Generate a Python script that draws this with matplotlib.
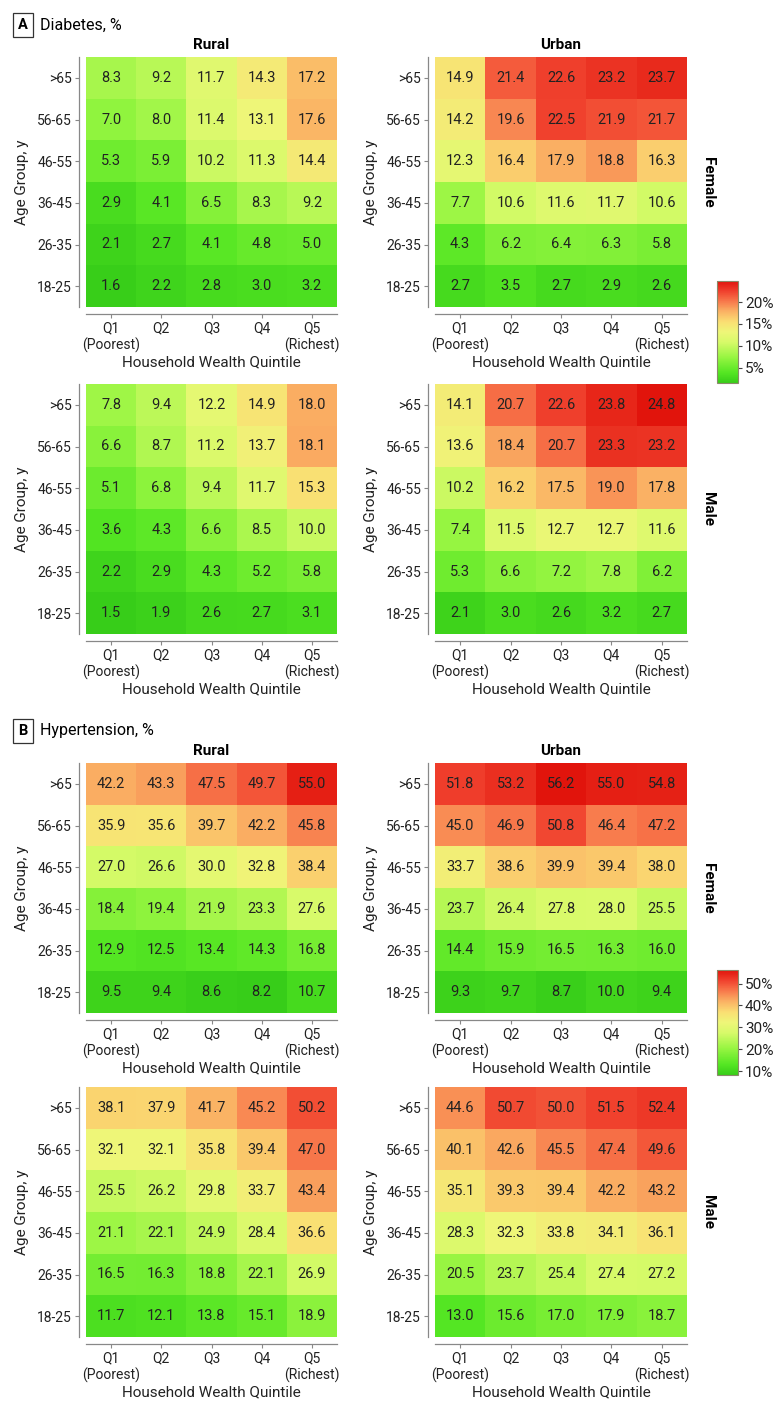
import numpy as np
import matplotlib
matplotlib.use("Agg")
import matplotlib.pyplot as plt
from matplotlib.colors import LinearSegmentedColormap, Normalize
from matplotlib.patches import Rectangle
import matplotlib.ticker as mticker

plt.rcParams['font.family'] = ['Roboto', 'DejaVu Sans']

age_groups = ['>65', '56-65', '46-55', '36-45', '26-35', '18-25']
quintiles = ['Q1\n(Poorest)', 'Q2', 'Q3', 'Q4', 'Q5\n(Richest)']

# rows top (>65) to bottom (18-25), columns Q1..Q5
diab_rural_female = [[8.3, 9.2, 11.7, 14.3, 17.2],
                     [7.0, 8.0, 11.4, 13.1, 17.6],
                     [5.3, 5.9, 10.2, 11.3, 14.4],
                     [2.9, 4.1, 6.5, 8.3, 9.2],
                     [2.1, 2.7, 4.1, 4.8, 5.0],
                     [1.6, 2.2, 2.8, 3.0, 3.2]]
diab_urban_female = [[14.9, 21.4, 22.6, 23.2, 23.7],
                     [14.2, 19.6, 22.5, 21.9, 21.7],
                     [12.3, 16.4, 17.9, 18.8, 16.3],
                     [7.7, 10.6, 11.6, 11.7, 10.6],
                     [4.3, 6.2, 6.4, 6.3, 5.8],
                     [2.7, 3.5, 2.7, 2.9, 2.6]]
diab_rural_male = [[7.8, 9.4, 12.2, 14.9, 18.0],
                   [6.6, 8.7, 11.2, 13.7, 18.1],
                   [5.1, 6.8, 9.4, 11.7, 15.3],
                   [3.6, 4.3, 6.6, 8.5, 10.0],
                   [2.2, 2.9, 4.3, 5.2, 5.8],
                   [1.5, 1.9, 2.6, 2.7, 3.1]]
diab_urban_male = [[14.1, 20.7, 22.6, 23.8, 24.8],
                   [13.6, 18.4, 20.7, 23.3, 23.2],
                   [10.2, 16.2, 17.5, 19.0, 17.8],
                   [7.4, 11.5, 12.7, 12.7, 11.6],
                   [5.3, 6.6, 7.2, 7.8, 6.2],
                   [2.1, 3.0, 2.6, 3.2, 2.7]]

hyp_rural_female = [[42.2, 43.3, 47.5, 49.7, 55.0],
                    [35.9, 35.6, 39.7, 42.2, 45.8],
                    [27.0, 26.6, 30.0, 32.8, 38.4],
                    [18.4, 19.4, 21.9, 23.3, 27.6],
                    [12.9, 12.5, 13.4, 14.3, 16.8],
                    [9.5, 9.4, 8.6, 8.2, 10.7]]
hyp_urban_female = [[51.8, 53.2, 56.2, 55.0, 54.8],
                    [45.0, 46.9, 50.8, 46.4, 47.2],
                    [33.7, 38.6, 39.9, 39.4, 38.0],
                    [23.7, 26.4, 27.8, 28.0, 25.5],
                    [14.4, 15.9, 16.5, 16.3, 16.0],
                    [9.3, 9.7, 8.7, 10.0, 9.4]]
hyp_rural_male = [[38.1, 37.9, 41.7, 45.2, 50.2],
                  [32.1, 32.1, 35.8, 39.4, 47.0],
                  [25.5, 26.2, 29.8, 33.7, 43.4],
                  [21.1, 22.1, 24.9, 28.4, 36.6],
                  [16.5, 16.3, 18.8, 22.1, 26.9],
                  [11.7, 12.1, 13.8, 15.1, 18.9]]
hyp_urban_male = [[44.6, 50.7, 50.0, 51.5, 52.4],
                  [40.1, 42.6, 45.5, 47.4, 49.6],
                  [35.1, 39.3, 39.4, 42.2, 43.2],
                  [28.3, 32.3, 33.8, 34.1, 36.1],
                  [20.5, 23.7, 25.4, 27.4, 27.2],
                  [13.0, 15.6, 17.0, 17.9, 18.7]]

nodes = [(0.0, (55, 205, 25)), (0.1, (85, 230, 35)), (0.25, (150, 245, 65)),
         (0.4, (215, 250, 105)), (0.5, (238, 246, 120)), (0.6, (250, 222, 115)),
         (0.7, (250, 178, 100)), (0.8, (248, 122, 76)), (0.9, (240, 66, 46)),
         (1.0, (225, 20, 12))]
cmap = LinearSegmentedColormap.from_list(
    'rg', [(p, tuple(c / 255 for c in rgb)) for p, rgb in nodes])

W, H = 783, 1404
fig = plt.figure(figsize=(W / 100, H / 100), dpi=100)
FS = 10.5


def px_axes(x0, y0, x1, y1):
    # pixel box (top-left origin) -> figure axes
    return fig.add_axes([x0 / W, 1 - y1 / H, (x1 - x0) / W, (y1 - y0) / H])


def heatmap(box, data, norm, title=None, side=None):
    ax = px_axes(*box)
    arr = np.array(data)[::-1]
    ax.pcolormesh(np.arange(6) - 0.5, np.arange(7) - 0.5, arr, cmap=cmap, norm=norm,
                  edgecolor='face', linewidth=0)
    for i in range(arr.shape[0]):
        for j in range(arr.shape[1]):
            ax.text(j, i, f'{arr[i, j]:.1f}', ha='center', va='center',
                    fontsize=FS, color='#222222')
    ax.set_xlim(-0.5, 4.5)
    ax.set_ylim(-0.5, 5.5)
    ax.set_xticks(range(5))
    ax.set_xticklabels(quintiles, fontsize=FS, color='#222222', linespacing=1.0)
    ax.set_yticks(range(6))
    ax.set_yticklabels(age_groups[::-1], fontsize=FS, color='#222222')
    for s in ['top', 'right']:
        ax.spines[s].set_visible(False)
    for s in ['left', 'bottom']:
        ax.spines[s].set_position(('outward', 5))
        ax.spines[s].set_color('#888888')
        ax.spines[s].set_linewidth(0.9)
    ax.tick_params(colors='#888888', labelcolor='#222222', length=3, width=0.8, pad=2)
    ax.set_xlabel('Household Wealth Quintile', fontsize=FS + 0.5, color='#222222', labelpad=2)
    ax.set_ylabel('Age Group, y', fontsize=FS + 0.5, color='#222222', labelpad=6)
    if title:
        ax.set_title(title, fontsize=FS + 0.5, fontweight='bold', pad=6)
    if side:
        ax.text(1.085, 0.5, side, transform=ax.transAxes, rotation=-90, ha='center',
                va='center', fontsize=FS + 0.5, fontweight='bold')
    return ax


def colorbar(box, norm, ticks):
    cax = px_axes(*box)
    sm = matplotlib.cm.ScalarMappable(norm=norm, cmap=cmap)
    cb = fig.colorbar(sm, cax=cax, ticks=ticks)
    cb.outline.set_edgecolor('#8a8a6a')
    cb.outline.set_linewidth(0.8)
    cb.ax.yaxis.set_major_formatter(mticker.FuncFormatter(lambda v, p: f'{v:.0f}%'))
    cb.ax.tick_params(labelsize=FS + 0.5, length=3, width=0.8, colors='#444444',
                      labelcolor='#222222', pad=2)


def panel_label(y, letter, text):
    fig.patches.append(Rectangle((13 / W, 1 - (y + 12) / H), 20 / W, 24 / H,
                                 transform=fig.transFigure, fill=False,
                                 edgecolor='#333333', linewidth=0.9))
    fig.text(23 / W, 1 - y / H, letter, ha='center', va='center', fontsize=FS,
             fontweight='bold')
    fig.text(40 / W, 1 - y / H, text, ha='left', va='center', fontsize=FS + 1)


def allvals(*sets):
    return np.concatenate([np.array(s).ravel() for s in sets])


# Panel A
d_all = allvals(diab_rural_female, diab_urban_female, diab_rural_male, diab_urban_male)
norm_a = Normalize(d_all.min(), d_all.max())
panel_label(25, 'A', 'Diabetes, %')
heatmap((86, 57, 337, 307), diab_rural_female, norm_a, title='Rural')
heatmap((435, 57, 687, 307), diab_urban_female, norm_a, title='Urban', side='Female')
heatmap((86, 384, 337, 634), diab_rural_male, norm_a)
heatmap((435, 384, 687, 634), diab_urban_male, norm_a, side='Male')
colorbar((717, 281, 738, 383), norm_a, [5, 10, 15, 20])

# Panel B
h_all = allvals(hyp_rural_female, hyp_urban_female, hyp_rural_male, hyp_urban_male)
norm_b = Normalize(h_all.min(), h_all.max())
panel_label(731, 'B', 'Hypertension, %')
heatmap((86, 763, 337, 1013), hyp_rural_female, norm_b, title='Rural')
heatmap((435, 763, 687, 1013), hyp_urban_female, norm_b, title='Urban', side='Female')
heatmap((86, 1087, 337, 1337), hyp_rural_male, norm_b)
heatmap((435, 1087, 687, 1337), hyp_urban_male, norm_b, side='Male')
colorbar((717, 970, 738, 1075), norm_b, [10, 20, 30, 40, 50])

fig.savefig('out.png', dpi=100, facecolor='white')
